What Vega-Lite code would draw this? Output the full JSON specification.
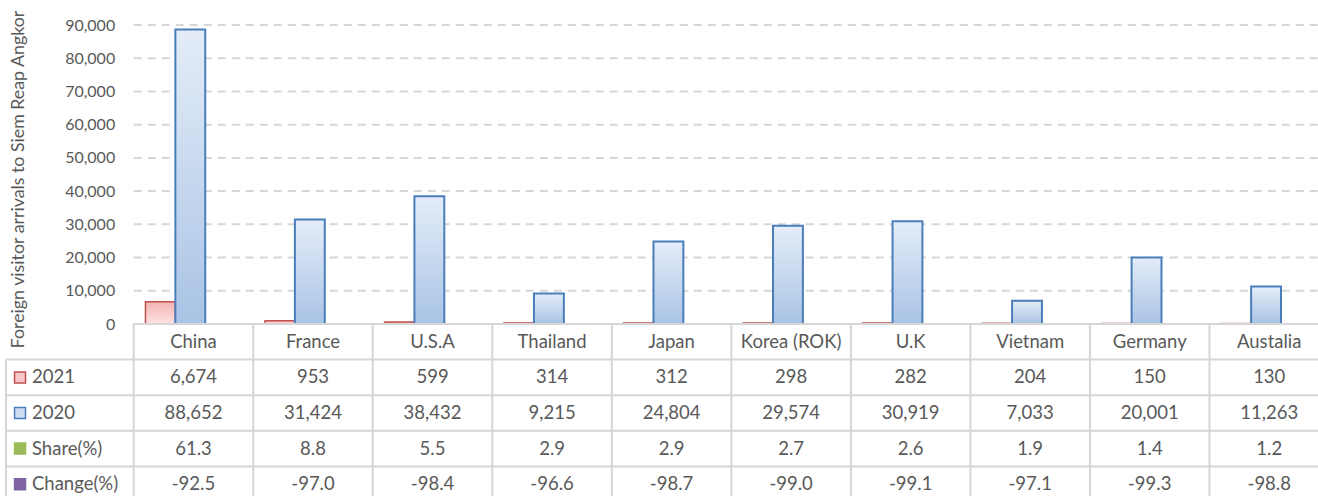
{
  "$schema": "https://vega.github.io/schema/vega-lite/v6.json",
  "autosize": {"type": "pad"},
  "padding": {"left": 5, "top": 9, "right": 0, "bottom": 0},
  "config": {
    "view": {"stroke": null},
    "font": "Lato",
    "locale": {"number": {"decimal": ".", "thousands": ",", "grouping": [3], "currency": ["$", ""], "minus": "-"}}
  },
  "datasets": {
    "arrivals": [
      {"country": "China", "y2021": 6674, "y2020": 88652, "share": 61.3, "change": -92.5},
      {"country": "France", "y2021": 953, "y2020": 31424, "share": 8.8, "change": -97.0},
      {"country": "U.S.A", "y2021": 599, "y2020": 38432, "share": 5.5, "change": -98.4},
      {"country": "Thailand", "y2021": 314, "y2020": 9215, "share": 2.9, "change": -96.6},
      {"country": "Japan", "y2021": 312, "y2020": 24804, "share": 2.9, "change": -98.7},
      {"country": "Korea (ROK)", "y2021": 298, "y2020": 29574, "share": 2.7, "change": -99.0},
      {"country": "U.K", "y2021": 282, "y2020": 30919, "share": 2.6, "change": -99.1},
      {"country": "Vietnam", "y2021": 204, "y2020": 7033, "share": 1.9, "change": -97.1},
      {"country": "Germany", "y2021": 150, "y2020": 20001, "share": 1.4, "change": -99.3},
      {"country": "Austalia", "y2021": 130, "y2020": 11263, "share": 1.2, "change": -98.8}
    ],
    "gridlines": [
      {"value": 10000}, {"value": 20000}, {"value": 30000}, {"value": 40000}, {"value": 50000},
      {"value": 60000}, {"value": 70000}, {"value": 80000}, {"value": 90000}
    ],
    "rows": [
      {"key": "y2021", "label": "2021"},
      {"key": "y2020", "label": "2020"},
      {"key": "share", "label": "Share(%)"},
      {"key": "change", "label": "Change(%)"}
    ]
  },
  "spacing": 0,
  "bounds": "flush",
  "vconcat": [
    {
      "width": 1323,
      "height": 299,
      "encoding": {
        "y": {
          "field": "value", "type": "quantitative",
          "scale": {"domain": [0, 90000], "nice": false, "zero": true},
          "axis": {
            "title": "Foreign visitor arrivals to Siem Reap Angkor",
            "values": [0, 10000, 20000, 30000, 40000, 50000, 60000, 70000, 80000, 90000],
            "format": ",d",
            "offset": -127.7,
            "domain": false, "ticks": false, "grid": false,
            "labelPadding": 19, "labelFontSize": 16, "labelColor": "#595959", "labelFont": "Lato",
            "labelFlush": false, "labelOverlap": false, "labelBound": false,
            "titleFont": "Lato", "titleFontSize": 17.8, "titleFontWeight": "normal", "titleColor": "#595959",
            "titlePadding": 37, "titleY": 154
          }
        }
      },
      "layer": [
        {
          "data": {"name": "gridlines"},
          "mark": {"type": "rule", "color": "#d6d6d6", "strokeWidth": 2, "strokeDash": [8, 6]},
          "encoding": {
            "x": {
              "datum": "China", "type": "nominal", "bandPosition": 0,
              "scale": {"type": "band", "domain": ["China", "France", "U.S.A", "Thailand", "Japan", "Korea (ROK)", "U.K", "Vietnam", "Germany", "Austalia"], "paddingInner": 0, "paddingOuter": 0.5342, "align": 1},
              "axis": null
            },
            "x2": {"value": "width"}
          }
        },
        {
          "data": {"name": "arrivals"},
          "transform": [{"fold": ["y2021"], "as": ["key", "value"]}],
          "mark": {
            "type": "bar", "stroke": "#c0504d", "strokeWidth": 1.5,
            "fill": {"gradient": "linear", "x1": 0, "y1": 0, "x2": 0, "y2": 1,
              "stops": [{"offset": 0, "color": "#f4b3b3"}, {"offset": 1, "color": "#fde2e2"}]}
          },
          "encoding": {
            "x": {"field": "country", "type": "nominal", "axis": null},
            "xOffset": {"field": "key", "type": "nominal", "scale": {"type": "band", "domain": ["y2021", "y2020"], "paddingInner": 0, "paddingOuter": 1.656, "align": 0.197}}
          }
        },
        {
          "data": {"name": "arrivals"},
          "transform": [{"fold": ["y2020"], "as": ["key", "value"]}],
          "mark": {
            "type": "bar", "stroke": "#4a7ebb", "strokeWidth": 2,
            "fill": {"gradient": "linear", "x1": 0, "y1": 0, "x2": 0, "y2": 1,
              "stops": [{"offset": 0, "color": "#e4edf8"}, {"offset": 1, "color": "#a9c3e5"}]}
          },
          "encoding": {
            "x": {"field": "country", "type": "nominal", "axis": null},
            "xOffset": {"field": "key", "type": "nominal"}
          }
        }
      ]
    },
    {
      "width": 1323,
      "height": 178,
      "layer": [
        {
          "data": {"name": "arrivals"},
          "mark": {"type": "rule", "color": "#d6d6d6", "strokeWidth": 2},
          "encoding": {
            "x": {
              "field": "country", "type": "nominal", "bandPosition": 0,
              "scale": {"type": "band", "domain": ["China", "France", "U.S.A", "Thailand", "Japan", "Korea (ROK)", "U.K", "Vietnam", "Germany", "Austalia"], "paddingInner": 0, "paddingOuter": 0.5342, "align": 1},
              "axis": null
            }
          }
        },
        {
          "data": {"name": "rows"},
          "mark": {"type": "rule", "color": "#d6d6d6", "strokeWidth": 2},
          "encoding": {
            "y": {
              "field": "key", "type": "nominal", "bandPosition": 0,
              "scale": {"type": "band", "domain": ["header", "y2021", "y2020", "share", "change"], "paddingInner": 0, "paddingOuter": 0},
              "axis": null
            }
          }
        },
        {
          "data": {"values": [{"edge": "top"}]},
          "mark": {"type": "rule", "color": "#d6d6d6", "strokeWidth": 2},
          "encoding": {
            "y": {"datum": "header", "type": "nominal", "bandPosition": 0},
            "x": {"datum": "China", "type": "nominal", "bandPosition": 0},
            "x2": {"value": "width"}
          }
        },
        {
          "data": {"values": [{"edge": "left"}]},
          "mark": {"type": "rule", "color": "#d6d6d6", "strokeWidth": 2},
          "encoding": {
            "x": {"datum": "China", "type": "nominal", "bandPosition": -1.0684},
            "y": {"datum": "y2021", "type": "nominal", "bandPosition": 0},
            "y2": {"value": "height"}
          }
        },
        {
          "data": {"name": "arrivals"},
          "mark": {"type": "text", "fontSize": 18.5, "color": "#595959", "font": "Lato", "align": "center", "baseline": "middle"},
          "encoding": {
            "x": {"field": "country", "type": "nominal"},
            "y": {"datum": "header", "type": "nominal"},
            "text": {"field": "country"}
          }
        },
        {
          "data": {"name": "arrivals"},
          "transform": [{"fold": ["y2021", "y2020"], "as": ["key", "value"]}],
          "mark": {"type": "text", "fontSize": 18.5, "color": "#595959", "font": "Lato", "align": "center", "baseline": "middle"},
          "encoding": {
            "x": {"field": "country", "type": "nominal"},
            "y": {"field": "key", "type": "nominal"},
            "text": {"field": "value", "type": "quantitative", "format": ",d"}
          }
        },
        {
          "data": {"name": "arrivals"},
          "transform": [{"fold": ["share", "change"], "as": ["key", "value"]}],
          "mark": {"type": "text", "fontSize": 18.5, "color": "#595959", "font": "Lato", "align": "center", "baseline": "middle"},
          "encoding": {
            "x": {"field": "country", "type": "nominal"},
            "y": {"field": "key", "type": "nominal"},
            "text": {"field": "value", "type": "quantitative", "format": ".1f"}
          }
        },
        {
          "data": {"name": "rows"},
          "mark": {"type": "point", "shape": "square", "filled": true, "size": 120, "strokeWidth": 1.5, "opacity": 1},
          "encoding": {
            "x": {"datum": "China", "type": "nominal", "bandPosition": -0.951},
            "y": {"field": "key", "type": "nominal"},
            "fill": {"field": "key", "type": "nominal", "legend": null,
              "scale": {"domain": ["y2021", "y2020", "share", "change"], "range": ["#f7c6c6", "#cddcf0", "#9bbb59", "#8064a2"]}},
            "stroke": {"field": "key", "type": "nominal", "legend": null,
              "scale": {"domain": ["y2021", "y2020", "share", "change"], "range": ["#c0504d", "#4a7ebb", "#9bbb59", "#8064a2"]}}
          }
        },
        {
          "data": {"name": "rows"},
          "mark": {"type": "text", "fontSize": 18.5, "color": "#595959", "font": "Lato", "align": "left", "baseline": "middle"},
          "encoding": {
            "x": {"datum": "China", "type": "nominal", "bandPosition": -0.851},
            "y": {"field": "key", "type": "nominal"},
            "text": {"field": "label"}
          }
        }
      ]
    }
  ]
}
